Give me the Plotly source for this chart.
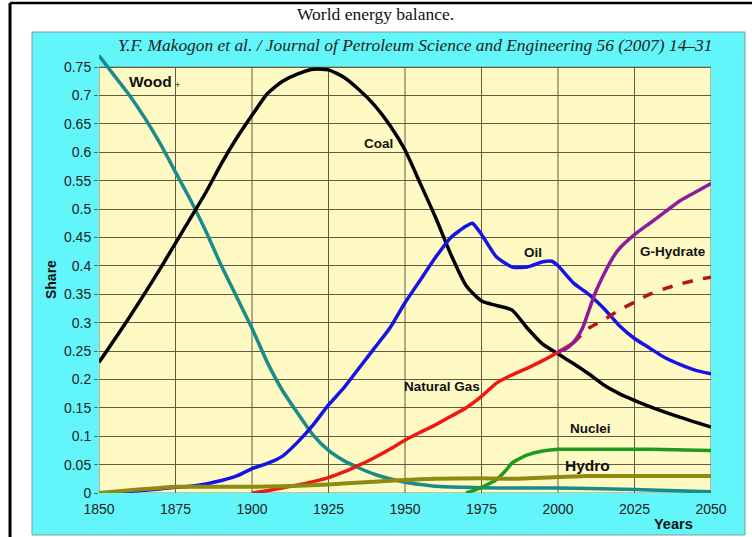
import plotly.graph_objects as go

# ---- data: share of world primary energy by source ----
wood_years = [1850, 1855, 1860, 1865, 1870, 1875, 1880, 1885, 1890, 1895, 1900, 1905, 1910,
              1915, 1920, 1925, 1930, 1935, 1940, 1945, 1950, 1955, 1960, 1970, 1980, 2000,
              2010, 2025, 2050]
wood_share = [0.77, 0.735, 0.70, 0.66, 0.615, 0.565, 0.515, 0.46, 0.40, 0.345, 0.29, 0.23, 0.18,
              0.14, 0.102, 0.075, 0.057, 0.044, 0.033, 0.025, 0.019, 0.015, 0.012, 0.010, 0.009,
              0.009, 0.008, 0.006, 0.002]

coal_years = [1850, 1860, 1870, 1875, 1880, 1885, 1890, 1895, 1900, 1905, 1910, 1915, 1920, 1925,
              1930, 1935, 1940, 1945, 1950, 1955, 1960, 1965, 1970, 1975, 1980, 1985, 1990, 1995,
              2000, 2005, 2010, 2015, 2020, 2025, 2030, 2040, 2050]
coal_share = [0.23, 0.31, 0.395, 0.44, 0.485, 0.53, 0.58, 0.625, 0.665, 0.703, 0.725, 0.738, 0.746,
              0.745, 0.732, 0.71, 0.683, 0.648, 0.604, 0.545, 0.485, 0.42, 0.365, 0.338, 0.33,
              0.322, 0.29, 0.262, 0.245, 0.228, 0.21, 0.19, 0.175, 0.163, 0.152, 0.133, 0.116]

oil_years = [1850, 1860, 1870, 1875, 1880, 1885, 1890, 1895, 1900, 1905, 1910, 1915, 1920, 1925,
             1930, 1935, 1940, 1945, 1950, 1955, 1960, 1965, 1970, 1972, 1975, 1978, 1980, 1985,
             1990, 1995, 1998, 2000, 2005, 2010, 2015, 2020, 2025, 2030, 2035, 2040, 2045, 2050]
oil_share = [0.0, 0.003, 0.007, 0.010, 0.012, 0.016, 0.022, 0.030, 0.043, 0.052, 0.065, 0.090,
             0.120, 0.155, 0.185, 0.220, 0.255, 0.290, 0.335, 0.375, 0.415, 0.450, 0.470, 0.475,
             0.455, 0.430, 0.415, 0.398, 0.398, 0.407, 0.408, 0.400, 0.370, 0.350, 0.325, 0.295,
             0.272, 0.255, 0.238, 0.226, 0.216, 0.210]

gas_years = [1900, 1905, 1910, 1915, 1920, 1925, 1930, 1935, 1940, 1945, 1950, 1955, 1960, 1965,
             1970, 1975, 1980, 1985, 1990, 1995, 2000, 2005]
gas_share = [0.0, 0.004, 0.009, 0.014, 0.020, 0.027, 0.037, 0.049, 0.062, 0.077, 0.093, 0.107,
             0.120, 0.135, 0.150, 0.170, 0.194, 0.208, 0.220, 0.233, 0.248, 0.264]

# projected natural gas without hydrates
gas_proj_years = [2005, 2010, 2015, 2020, 2025, 2030, 2035, 2040, 2045, 2050]
gas_proj_share = [0.264, 0.290, 0.305, 0.322, 0.336, 0.350, 0.360, 0.368, 0.375, 0.380]

hydrate_years = [2000, 2003, 2006, 2008, 2010, 2012, 2015, 2018, 2020, 2025, 2030, 2035, 2040,
                 2045, 2050]
hydrate_share = [0.248, 0.255, 0.272, 0.290, 0.320, 0.350, 0.385, 0.415, 0.430, 0.455, 0.475,
                 0.495, 0.515, 0.530, 0.545]

nuclei_years = [1970, 1975, 1980, 1983, 1985, 1988, 1990, 1995, 2000, 2010, 2030, 2050]
nuclei_share = [0.0, 0.010, 0.024, 0.040, 0.053, 0.062, 0.067, 0.074, 0.077, 0.077, 0.077, 0.075]

hydro_years = [1850, 1860, 1870, 1875, 1885, 1900, 1910, 1925, 1940, 1950, 1960, 1975, 1985,
               2000, 2010, 2030, 2050]
hydro_share = [0.0, 0.005, 0.009, 0.011, 0.011, 0.011, 0.012, 0.015, 0.020, 0.023, 0.025, 0.026,
               0.025, 0.028, 0.030, 0.030, 0.030]

x_ticks = [1850, 1875, 1900, 1925, 1950, 1975, 2000, 2025, 2050]
y_top = 0.75

# ---- styling ----
CYAN = "#62F6FA"
PANEL = "#FFFAC4"
GRID = "#5f5a40"
SANS = "Liberation Sans, Arial, sans-serif"
SERIF = "Liberation Serif, Times New Roman, serif"

fig = go.Figure()


def add_line(xs, ys, color, width=3.5, dash="solid"):
    fig.add_trace(go.Scatter(
        x=xs, y=ys, mode="lines",
        line=dict(color=color, width=width, shape="spline", smoothing=0.6, dash=dash),
        hoverinfo="skip", showlegend=False,
    ))


add_line(wood_years, wood_share, "#1b8a8a")
add_line(coal_years, coal_share, "#000000")
add_line(oil_years, oil_share, "#1414e6")
add_line(gas_years, gas_share, "#ee1a12")
add_line(gas_proj_years, gas_proj_share, "#b3161a", dash="dash")
add_line(hydrate_years, hydrate_share, "#8c1c9c")
add_line(nuclei_years, nuclei_share, "#1e9a1e")
add_line(hydro_years, hydro_share, "#8e8b12", width=4)

shapes = [
    # outer cyan frame around the chart
    dict(type="rect", xref="paper", yref="paper", x0=-0.1095, x1=1.0556, y0=-0.0948, y1=1.0406,
         fillcolor=CYAN, line=dict(color="#7f9c9c", width=1), layer="below"),
    # page rules
    dict(type="line", xref="paper", yref="paper", x0=-0.1454, x1=1.07, y0=1.1061, y1=1.1061,
         line=dict(color="#000000", width=2.5), layer="below"),
    dict(type="line", xref="paper", yref="paper", x0=-0.1454, x1=-0.1454, y0=-0.11, y1=1.1061,
         line=dict(color="#000000", width=3), layer="below"),
    # plotting panel
    dict(type="rect", xref="x", yref="y", x0=x_ticks[0], x1=x_ticks[-1], y0=0, y1=y_top,
         fillcolor=PANEL, line=dict(width=0), layer="below"),
]
for xv in x_ticks[1:-1]:
    shapes.append(dict(type="line", xref="x", yref="y", x0=xv, x1=xv, y0=0, y1=y_top,
                       line=dict(color=GRID, width=1), layer="below"))
shapes.append(dict(type="rect", xref="x", yref="y", x0=x_ticks[0], x1=x_ticks[-1], y0=0, y1=y_top,
                   fillcolor="rgba(0,0,0,0)", line=dict(color="#8a8a80", width=1.2), layer="below"))


def label(text, x, y, size=13.5, xref="x", yref="y", **kw):
    return dict(text=text, x=x, y=y, xref=xref, yref=yref, showarrow=False,
                xanchor="center", yanchor="middle",
                font=dict(family=SANS, size=size, color="#111111"), **kw)


annotations = [
    dict(text="World energy balance.", x=0.4526, y=1.0813, xref="paper", yref="paper",
         xanchor="center", yanchor="middle", showarrow=False,
         font=dict(family=SERIF, size=17.5, color="#111111")),
    dict(text="<i>Y.F. Makogon et al. / Journal of Petroleum Science and Engineering 56 (2007) 14–31</i>",
         x=0.517, y=1.0113, xref="paper", yref="paper", xanchor="center", yanchor="middle",
         showarrow=False, font=dict(family=SERIF, size=17.4, color="#222222")),
    label("<b>Wood</b>", 1866.7, 0.725, size=15.5),
    label("+", 1875.8, 0.719, size=9),
    label("<b>Coal</b>", 1941.2, 0.616),
    label("<b>Oil</b>", 1991.8, 0.424),
    label("<b>G-Hydrate</b>", 2037.6, 0.426),
    label("<b>Natural Gas</b>", 1962.1, 0.187),
    label("<b>Nuclei</b>", 2010.5, 0.114),
    label("<b>Hydro</b>", 2009.8, 0.049, size=15.5),
    label("<b>Years</b>", 0.9395, -0.07, size=14.5, xref="paper", yref="paper"),
    label("<b>Share</b>", -0.0784, 0.4808, size=14, xref="paper", yref="paper", textangle=-90),
]

fig.update_layout(
    width=752, height=537, autosize=False,
    margin=dict(l=99, r=41, t=50, b=44, pad=0),
    paper_bgcolor="#ffffff",
    plot_bgcolor="rgba(0,0,0,0)",
    shapes=shapes,
    annotations=annotations,
    xaxis=dict(range=[x_ticks[0], x_ticks[-1]], tickvals=x_ticks, showgrid=False, zeroline=False,
               showline=False, ticks="outside", ticklen=3, tickcolor="rgba(0,0,0,0)",
               tickfont=dict(family=SANS, size=14, color="#222222")),
    yaxis=dict(range=[0, 0.78], tick0=0, dtick=0.05, showgrid=True, gridcolor=GRID, gridwidth=1,
               zeroline=False, showline=False, ticks="outside", ticklen=4, tickcolor="#666666",
               tickfont=dict(family=SANS, size=14, color="#222222")),
)

fig.write_html("out.html")
